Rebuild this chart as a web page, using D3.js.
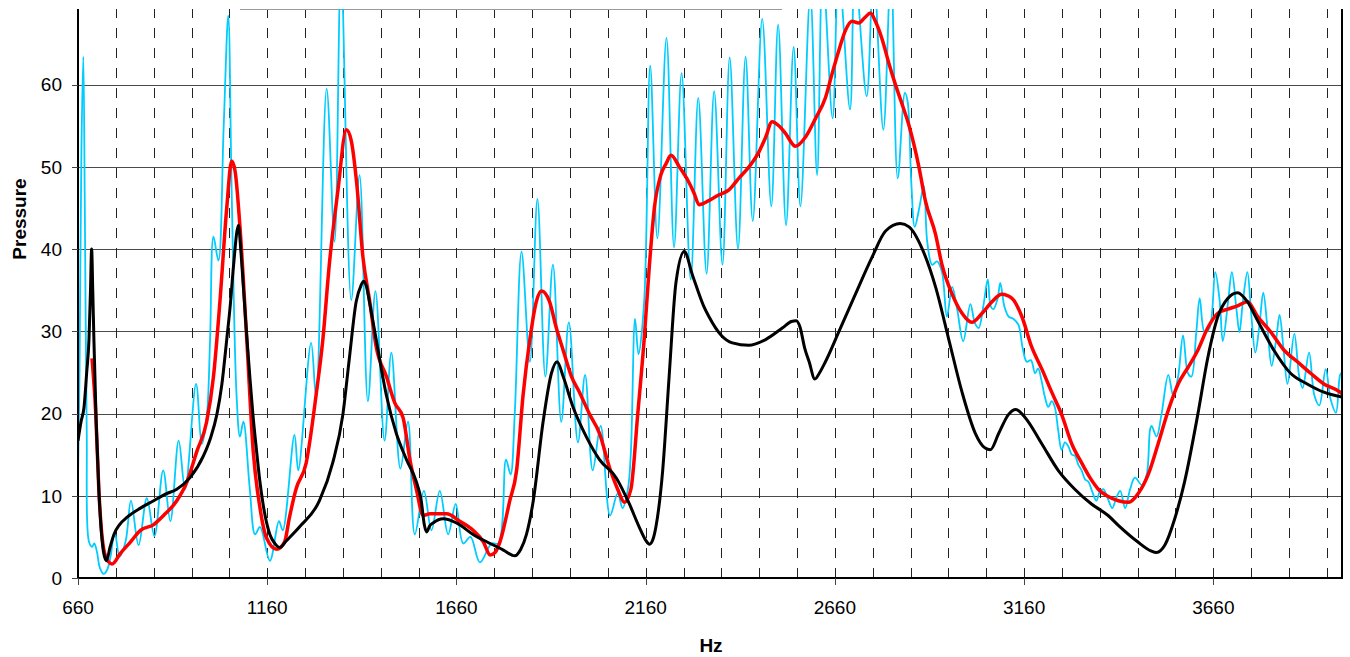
<!DOCTYPE html>
<html>
<head>
<meta charset="utf-8">
<script src="https://cdn.jsdelivr.net/npm/d3@7"></script>
<style>
  html, body { margin: 0; padding: 0; background: #fff; }
  svg { display: block; font-family: "Liberation Sans", Arial, sans-serif; }
</style>
</head>
<body>
<svg id="chart" width="1350" height="657"></svg>
<script>
// ---- data (Hz, Pressure) ----
const xTickLabels = [660, 1160, 1660, 2160, 2660, 3160, 3660];
const yTickLabels = [0, 10, 20, 30, 40, 50, 60];
const minorGridHz = d3.range(760, 4000, 100);

// measured (cyan)
const measured = [
  [660,12.2],[664,25],[669,52],[674,63.4],[678,45],[683,18],[689,4.4],[697,3.8],[703,4.2],[710,3.2],
  [718,1.2],[728,0.5],[737,1.0],[746,2.6],[757,5.6],[770,2.6],[786,4.5],[800,9.4],[820,4.0],[842,9.7],
  [862,5.1],[885,13.1],[904,6.9],[926,16.7],[943,10.8],[972,23.6],[987,16.3],[1000,19.5],[1009,29],
  [1018,41.5],[1031,38.6],[1045,55],[1057,68.4],[1066,47.2],[1079,22.2],[1088,17.2],[1097,19],
  [1114,10.8],[1128,5.3],[1141,6.2],[1167,2.1],[1191,6.9],[1201,5.8],[1232,17.4],[1242,13.1],
  [1276,28.6],[1289,22],[1317,59.5],[1338,40.9],[1355,74],[1382,33.8],[1404,49],[1426,21.5],
  [1446,34.9],[1470,16.7],[1488,27.4],[1512,13.3],[1532,19],[1550,5.3],[1574,10.6],[1594,5.8],
  [1616,10.6],[1638,5.3],[1658,9.0],[1678,4.2],[1697,5.0],[1722,1.9],[1753,4.2],[1771,4.2],
  [1791,14.4],[1803,12.6],[1814,19.9],[1832,39.7],[1854,26.3],[1874,46.1],[1895,24.5],[1915,38.1],
  [1937,19],[1957,31.1],[1981,16.5],[2000,24.7],[2020,13.1],[2041,18.5],[2066,7.6],[2086,10.3],
  [2099,8.5],[2113,10.8],[2121,15.4],[2132,31.5],[2141,27.2],[2156,33.6],[2172,62.3],[2191,41.3],
  [2215,65.7],[2235,40.2],[2255,61.4],[2279,36.3],[2299,58.4],[2321,37],[2341,59.2],[2363,38.1],
  [2382,63.3],[2404,40],[2424,63.4],[2443,43.4],[2468,68],[2492,45.2],[2510,67.3],[2531,42.9],
  [2551,64.6],[2569,45.2],[2595,71],[2613,49],[2628,74],[2654,55.9],[2670,74],[2700,57],[2713,74],
  [2744,58.6],[2762,74],[2788,54.5],[2808,74],[2826,48.6],[2845,59],[2852,58],[2862,48],[2871,42.7],
  [2883,45],[2895,47.7],[2904,40.9],[2917,38.1],[2930,38.5],[2943,37.2],[2956,31.8],[2970,35.4],
  [2983,32.7],[2999,28.8],[3018,33.3],[3030,31],[3040,30.4],[3052,33],[3064,36.3],[3072,33],
  [3079,32.7],[3090,34],[3097,35.9],[3108,33],[3119,31.8],[3132,31.5],[3145,30.8],[3156,28],
  [3167,26.3],[3178,26.5],[3189,24.9],[3197,25.5],[3206,24],[3215,22],[3224,20.8],[3233,21.5],
  [3241,20.8],[3250,18],[3259,15.6],[3268,16.5],[3277,16],[3286,15],[3294,14.9],[3303,13.8],
  [3312,13.1],[3321,12],[3330,11.7],[3340,10.5],[3351,9.4],[3360,10.5],[3369,10.8],[3380,9.8],
  [3393,8.5],[3404,9.8],[3414,10.6],[3427,8.5],[3440,10.8],[3453,12.2],[3471,11.3],[3484,12.6],
  [3493,18.1],[3497,18.5],[3510,17.2],[3523,19.9],[3541,24.7],[3554,22.2],[3567,24.5],[3580,29.5],
  [3593,24.9],[3602,24.5],[3615,29.9],[3624,34],[3637,29.9],[3650,30.4],[3665,37.2],[3677,33.6],
  [3685,28.8],[3699,33.6],[3709,37.2],[3721,32.7],[3729,29.9],[3738,33.6],[3750,37.2],[3760,32.2],
  [3771,27.4],[3782,30.8],[3792,34.7],[3804,29.9],[3814,25.8],[3826,29],[3835,32],[3845,28.1],
  [3856,23.6],[3874,29.7],[3887,24.5],[3896,23.1],[3913,27.4],[3927,22.2],[3940,21],[3957,25.4],
  [3970,21.7],[3984,20.1],[3995,24.7],[4000,25]
];

// smoothed (red)
const smoothed = [
  [697,26.7],[707,19.9],[715,10.8],[728,3.5],[740,2.0],[750,1.7],[772,3.0],[799,4.4],[825,5.8],
  [860,6.5],[886,7.6],[921,9.4],[948,11.7],[974,15.4],[1000,19],[1018,24.5],[1035,33.6],[1053,45],
  [1066,50.7],[1075,49.5],[1088,42.7],[1106,29],[1123,15.4],[1141,8.5],[1158,4.9],[1185,3.5],
  [1206,4.4],[1218,7.2],[1236,10.8],[1263,14],[1289,22.2],[1307,29],[1324,38.1],[1347,47.2],
  [1369,54.5],[1382,53.2],[1396,48.2],[1413,39],[1431,33.6],[1448,28.1],[1475,24.5],[1497,21.3],
  [1519,19.5],[1537,14.4],[1554,10.8],[1572,7.6],[1590,7.8],[1634,7.8],[1669,6.9],[1704,5.8],
  [1731,4.4],[1749,2.8],[1762,3.1],[1775,4.4],[1801,9.4],[1819,13.1],[1836,22.2],[1854,29],
  [1871,33.6],[1885,34.9],[1906,33.6],[1924,30.4],[1942,27.7],[1964,24.5],[1985,22.6],[2012,19.9],
  [2038,17.6],[2064,13.5],[2086,10.8],[2104,9.2],[2121,10.8],[2139,19.9],[2156,29],[2170,38.1],
  [2183,45],[2200,49],[2214,50.4],[2227,51.4],[2249,50],[2271,48.4],[2288,46.8],[2301,45.4],
  [2327,45.9],[2354,46.6],[2380,47.2],[2406,48.6],[2433,50],[2459,51.8],[2477,53.6],[2494,55.5],
  [2512,55],[2529,54.1],[2556,52.5],[2582,53.6],[2609,55.9],[2635,58.4],[2653,61.4],[2670,64.1],
  [2688,66.6],[2705,67.7],[2723,67.5],[2740,68.2],[2754,68.7],[2767,67.7],[2785,65.5],[2802,62.7],
  [2820,60],[2837,57.7],[2856,55],[2882,50],[2899,45.9],[2926,41.8],[2943,38.1],[2970,34.5],
  [2996,32.2],[3022,31.1],[3049,32.2],[3075,33.6],[3101,34.5],[3128,34],[3154,31.8],[3180,28.1],
  [3207,25.4],[3233,22.6],[3259,19.9],[3286,16.3],[3312,14],[3334,12.2],[3356,10.8],[3382,9.9],
  [3409,9.4],[3436,9.2],[3462,10.3],[3488,12.6],[3514,16.3],[3541,20.4],[3567,23.6],[3593,25.6],
  [3619,27.7],[3645,30.4],[3672,32.2],[3698,32.7],[3724,33.1],[3750,33.6],[3777,31.8],[3812,29.9],
  [3847,27.7],[3882,26.3],[3917,24.9],[3952,23.6],[3995,22.6],[4000,22.4]
];

// model (black)
const model = [
  [660,16.7],[668,19],[676,20.8],[683,25],[689,29],[693,35],[696,40.0],[699,35],[702,29],[708,19],
  [715,10.8],[722,5.5],[728,3.0],[735,2.1],[745,3.8],[755,5.3],[770,6.5],[790,7.4],[825,8.5],
  [860,9.4],[891,10.2],[921,10.8],[956,12.2],[992,14.9],[1010,17],[1027,19.9],[1040,23.5],[1053,29],
  [1063,33.5],[1071,38],[1084,42.9],[1090,40],[1097,35.4],[1105,30],[1114,24.5],[1122,20],
  [1132,15.4],[1140,12],[1149,9.0],[1158,6.8],[1167,5.3],[1180,4.2],[1193,3.7],[1210,4.5],
  [1245,6.2],[1298,9.4],[1333,14],[1360,19.9],[1377,26.7],[1395,33.6],[1408,35.6],[1415,36.1],
  [1422,35.5],[1430,33.6],[1448,29],[1475,22.2],[1501,17.6],[1528,14.4],[1554,11.7],[1567,9.4],
  [1575,6.5],[1581,5.6],[1590,6.4],[1598,6.7],[1625,7.2],[1660,6.7],[1704,5.3],[1749,4.2],
  [1784,3.4],[1814,2.7],[1830,3.5],[1845,5.3],[1863,9.4],[1889,19],[1911,24.9],[1926,26.3],
  [1942,24.5],[1968,20.8],[2003,17.2],[2038,14.4],[2082,12.2],[2117,9.0],[2143,6.2],[2160,4.6],
  [2170,4.1],[2180,4.8],[2187,6.2],[2205,13.1],[2222,24.5],[2240,35.9],[2262,39.7],[2284,36.8],
  [2313,33.1],[2327,31.8],[2360,29.5],[2389,28.6],[2433,28.3],[2477,29],[2521,30.4],[2545,31.2],
  [2558,31.3],[2568,30.5],[2580,28],[2592,26.3],[2607,24.2],[2620,25],[2635,26.3],[2670,29.9],
  [2714,34.5],[2758,39],[2794,42.2],[2833,43.1],[2856,42.7],[2891,40],[2926,35.4],[2961,29],
  [2996,22.6],[3031,17.6],[3057,15.8],[3071,15.6],[3093,17.6],[3119,19.9],[3138,20.5],[3163,19.5],
  [3207,16.3],[3250,13.1],[3294,10.8],[3338,9.0],[3382,7.6],[3409,6.4],[3460,4.4],[3495,3.3],
  [3510,3.1],[3532,4.0],[3558,7.2],[3584,11.7],[3619,19.9],[3645,26.7],[3672,31.8],[3698,34],
  [3724,34.7],[3750,33.6],[3777,31.3],[3820,27.7],[3864,24.9],[3908,23.6],[3952,22.6],[4000,22.0]
];

// ---- layout ----
const W = 1350, H = 657;
const plot = { left: 78, right: 1342, top: 9, bottom: 578 };
const svg = d3.select("#chart");

const x = d3.scaleLinear().domain([660, 4000]).range([plot.left, plot.right]);
const y = d3.scaleLinear().domain([0, 69.2]).range([plot.bottom, plot.top]);
const crisp = v => Math.round(v) + 0.5;

svg.append("defs").append("clipPath").attr("id", "clip")
  .append("rect")
  .attr("x", plot.left).attr("y", plot.top)
  .attr("width", plot.right - plot.left).attr("height", plot.bottom - plot.top);

// horizontal gridlines
svg.append("g").selectAll("line")
  .data(yTickLabels.filter(d => d > 0))
  .join("line")
  .attr("x1", plot.left).attr("x2", plot.right)
  .attr("y1", d => crisp(y(d))).attr("y2", d => crisp(y(d)))
  .attr("stroke", "#4a4a4a").attr("stroke-width", 1);

// vertical dashed gridlines
svg.append("g").selectAll("line")
  .data(minorGridHz)
  .join("line")
  .attr("x1", d => crisp(x(d))).attr("x2", d => crisp(x(d)))
  .attr("y1", plot.bottom).attr("y2", plot.top)
  .attr("stroke", "#222").attr("stroke-width", 1)
  .attr("stroke-dasharray", "10,10");

// top partial border fragment
svg.append("line")
  .attr("x1", 240).attr("x2", 782).attr("y1", 9.5).attr("y2", 9.5)
  .attr("stroke", "#999").attr("stroke-width", 1);

// series
const lineMeasured = d3.line().x(d => x(d[0])).y(d => y(d[1])).curve(d3.curveCatmullRom.alpha(0.5));
const lineSmooth = d3.line().x(d => x(d[0])).y(d => y(d[1])).curve(d3.curveMonotoneX);

const series = svg.append("g").attr("clip-path", "url(#clip)");
series.append("path").datum(measured)
  .attr("d", lineMeasured).attr("fill", "none")
  .attr("stroke", "#00CCFF").attr("stroke-width", 1.8).attr("stroke-linejoin", "round");
series.append("path").datum(smoothed)
  .attr("d", lineSmooth).attr("fill", "none")
  .attr("stroke", "#FF0000").attr("stroke-width", 3.5).attr("stroke-linejoin", "round");
series.append("path").datum(model)
  .attr("d", lineSmooth).attr("fill", "none")
  .attr("stroke", "#000").attr("stroke-width", 3).attr("stroke-linejoin", "round");

// axes lines
svg.append("line").attr("x1", plot.left).attr("x2", plot.left)
  .attr("y1", plot.top).attr("y2", plot.bottom + 1)
  .attr("stroke", "#000").attr("stroke-width", 2);
svg.append("line").attr("x1", plot.left - 1).attr("x2", plot.right + 1)
  .attr("y1", plot.bottom).attr("y2", plot.bottom)
  .attr("stroke", "#000").attr("stroke-width", 2);
svg.append("line").attr("x1", plot.right).attr("x2", plot.right)
  .attr("y1", plot.top).attr("y2", plot.bottom + 1)
  .attr("stroke", "#000").attr("stroke-width", 2);

// y ticks + labels
const yT = svg.append("g");
yT.selectAll("line").data(yTickLabels).join("line")
  .attr("x1", plot.left - 6).attr("x2", plot.left)
  .attr("y1", d => crisp(y(d))).attr("y2", d => crisp(y(d)))
  .attr("stroke", "#444").attr("stroke-width", 1);
yT.selectAll("text").data(yTickLabels).join("text")
  .attr("x", 62).attr("y", d => y(d) + 6.8)
  .attr("text-anchor", "end").attr("font-size", 19).attr("fill", "#000")
  .text(d => d);

// x ticks + labels
const xT = svg.append("g");
xT.selectAll("line").data(xTickLabels).join("line")
  .attr("x1", d => crisp(x(d))).attr("x2", d => crisp(x(d)))
  .attr("y1", plot.bottom).attr("y2", plot.bottom + 7)
  .attr("stroke", "#444").attr("stroke-width", 1);
xT.selectAll("text").data(xTickLabels).join("text")
  .attr("x", d => x(d)).attr("y", 613.5)
  .attr("text-anchor", "middle").attr("font-size", 19).attr("fill", "#000")
  .text(d => d);

// axis titles
svg.append("text")
  .attr("transform", "translate(26,219) rotate(-90)")
  .attr("text-anchor", "middle").attr("font-size", 19).attr("font-weight", "bold")
  .text("Pressure");
svg.append("text")
  .attr("x", 711).attr("y", 652)
  .attr("text-anchor", "middle").attr("font-size", 19).attr("font-weight", "bold")
  .text("Hz");
</script>
</body>
</html>
